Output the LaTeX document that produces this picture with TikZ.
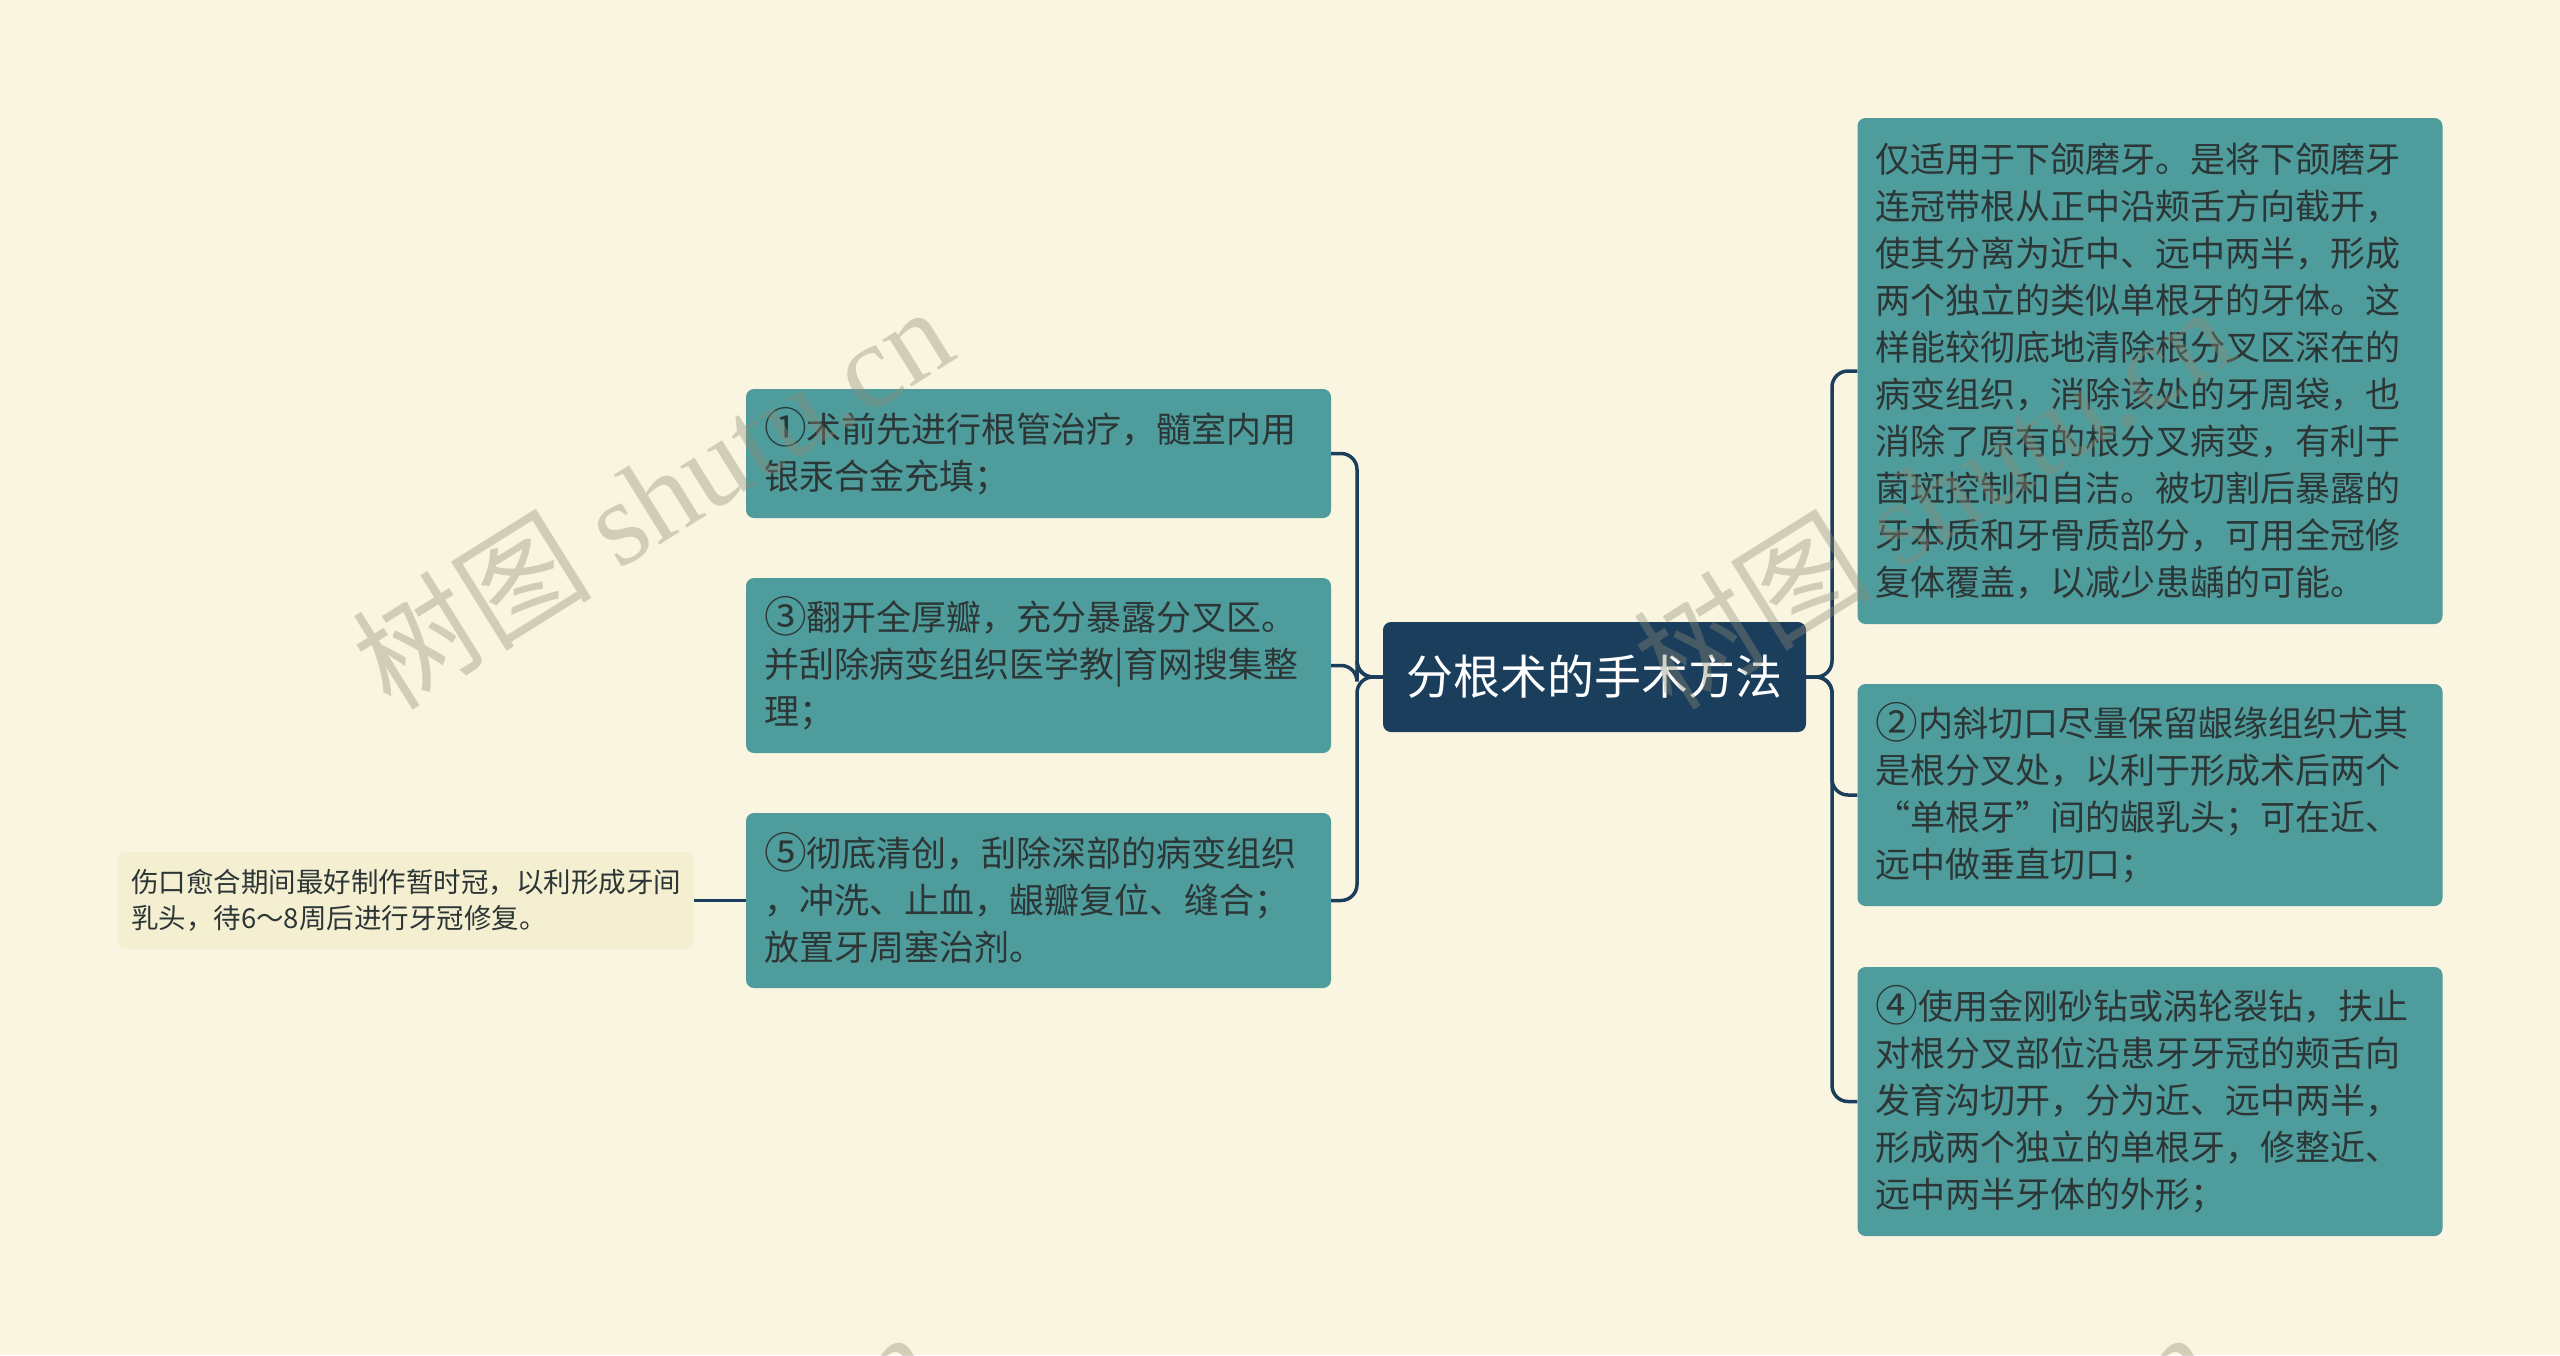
\documentclass[tikz,border=0pt]{standalone}
\usepackage{graphicx}
\usepackage{fontspec}
\setmainfont{Noto Sans CJK SC}
\newfontfamily\wmlatin{Liberation Serif}
\newcommand{\cnum}[1]{\smash{\raisebox{-0.05em}{\scalebox{1.22}{#1}}}}
\definecolor{bgc}{HTML}{FAF5E1}
\definecolor{tealc}{HTML}{4E9C9B}
\definecolor{navyc}{HTML}{1A3E5C}
\definecolor{txtc}{HTML}{2D3636}
\definecolor{notec}{HTML}{F5EFD1}
\definecolor{wmc}{HTML}{8E8C78}
\tikzset{
  topicbox/.style={draw=none, fill=tealc, rounded corners=8pt, text=txtc,
    align=left, inner xsep=18pt, inner ysep=0pt, text width=549pt,
    font=\fontsize{35pt}{47pt}\selectfont},
  rootbox/.style={draw=none, fill=navyc, rounded corners=8pt, text=white,
    align=center, minimum width=423pt, minimum height=110pt,
    font=\fontsize{47pt}{56pt}\selectfont},
  notebox/.style={draw=none, fill=notec, rounded corners=8pt, text=txtc,
    align=left, inner xsep=13pt, inner ysep=0pt, text width=550pt, minimum height=97pt,
    font=\fontsize{27.5pt}{36pt}\selectfont},
  link/.style={draw=navyc, line width=3.5pt, rounded corners=16pt},
  wm/.style={text=wmc, opacity=0.38, rotate=32, font=\fontsize{120pt}{130pt}\selectfont}
}
\begin{document}
\begin{tikzpicture}[x=1pt,y=-1pt]
\fill[bgc] (0,0) rectangle (2560,1355);
\useasboundingbox (0,0) rectangle (2560,1355);

% root
\node[rootbox] (root) at (1594.5,677) {分根术的手术方法};

% left children
\node[topicbox, minimum height=129pt] (l1) at (1038.5,453.5) {\cnum{①}术前先进行根管治疗，髓室内用\\银汞合金充填；};
\node[topicbox, minimum height=175pt] (l2) at (1038.5,665.5) {\cnum{③}翻开全厚瓣，充分暴露分叉区。\\并刮除病变组织医学教|育网搜集整\\理；};
\node[topicbox, minimum height=175pt] (l3) at (1038.5,900.5) {\cnum{⑤}彻底清创，刮除深部的病变组织\\，冲洗、止血，龈瓣复位、缝合；\\放置牙周塞治剂。};

% note
\node[notebox] (note) at (406,900.5) {伤口愈合期间最好制作暂时冠，以利形成牙间\\乳头，待6～8周后进行牙冠修复。};

% right children
\node[topicbox, minimum height=506pt] (r1) at (2150,371) {仅适用于下颌磨牙。是将下颌磨牙\\连冠带根从正中沿颊舌方向截开，\\使其分离为近中、远中两半，形成\\两个独立的类似单根牙的牙体。这\\样能较彻底地清除根分叉区深在的\\病变组织，消除该处的牙周袋，也\\消除了原有的根分叉病变，有利于\\菌斑控制和自洁。被切割后暴露的\\牙本质和牙骨质部分，可用全冠修\\复体覆盖，以减少患龋的可能。};
\node[topicbox, minimum height=222pt] (r2) at (2150,795) {\cnum{②}内斜切口尽量保留龈缘组织尤其\\是根分叉处，以利于形成术后两个\\“单根牙”间的龈乳头；可在近、\\远中做垂直切口；};
\node[topicbox, minimum height=269pt] (r3) at (2150,1101.5) {\cnum{④}使用金刚砂钻或涡轮裂钻，扶止\\对根分叉部位沿患牙牙冠的颊舌向\\发育沟切开，分为近、远中两半，\\形成两个独立的单根牙，修整近、\\远中两半牙体的外形；};

% connectors
\coordinate (busl) at (1357,677);
\coordinate (busr) at (1832,677);
\foreach \c in {l1,l2,l3} {
  \draw[link] (root.west) -- (busl) |- (\c.east);
}
\foreach \c in {r1,r2,r3} {
  \draw[link] (root.east) -- (busr) |- (\c.west);
}
\draw[link] (note.east) -- (l3.west);

% watermarks
\begin{scope}
\clip (0,0) rectangle (2560,1355);
\node[wm] (wm1) at (652,496) {树图 {\wmlatin shutu.cn}};
\node[wm] (wm2) at (1932,496) {树图 {\wmlatin shutu.cn}};
\node[wm] (wm3) at (632,1521) {树图 {\wmlatin shutu.cn}};
\node[wm] (wm4) at (1912,1521) {树图 {\wmlatin shutu.cn}};
\end{scope}
\end{tikzpicture}
\end{document}
